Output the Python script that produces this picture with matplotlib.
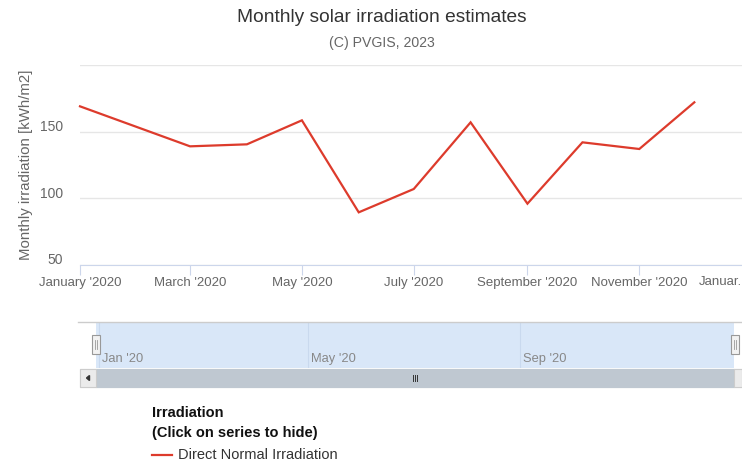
import numpy as np
import matplotlib.pyplot as plt
import matplotlib.dates as mdates
import matplotlib.transforms as mtransforms
from matplotlib.patches import Rectangle
import datetime as dt

plt.rcParams['font.family'] = ['Liberation Sans', 'DejaVu Sans']

# monthly values
months = [dt.datetime(2020, m, 1) for m in range(1, 13)]
dni = [169, 153.5, 139, 140.5, 158.5, 89.5, 107, 157, 96, 142, 137, 172]

yticks = [50, 100, 150, 200]
ytick_labels = ['50', '100', '150', '']
xticks = [dt.datetime(2020, m, 1) for m in (1, 3, 5, 7, 9, 11)]
nav_ticks = [dt.datetime(2020, m, 1) for m in (1, 5, 9)]

W, H = 742, 466
fig = plt.figure(figsize=(W / 100, H / 100), dpi=100)

def box(x0, y0, x1, y1):
    # pixel box (top-left origin) -> figure fraction rect
    return [x0 / W, 1 - y1 / H, (x1 - x0) / W, (y1 - y0) / H]

red = '#dd3b2c'
grey = '#666666'

# ---- main chart
ax = fig.add_axes(box(80, 65, 742, 265))
ax.plot(months, dni, color=red, lw=1.6, solid_joinstyle='miter', clip_on=False)
ax.set_xlim(dt.datetime(2020, 1, 1), dt.datetime(2020, 12, 27))
ax.set_ylim(50, 200)
ax.set_yticks(yticks)
ax.set_yticklabels(ytick_labels)
ax.yaxis.grid(True, color='#e6e6e6', lw=1)
ax.set_axisbelow(True)
for s in ['top', 'right', 'left']:
    ax.spines[s].set_visible(False)
ax.spines['bottom'].set_color('#ccd6eb')
ax.tick_params(axis='y', length=0, labelsize=10, labelcolor=grey, pad=12)
ax.set_xticks(xticks)
ax.xaxis.set_major_formatter(mdates.DateFormatter("%B '%Y"))
ax.tick_params(axis='x', length=7.2, color='#ccd6eb', labelsize=9.5,
               labelcolor=grey, pad=1.5)
off = mtransforms.ScaledTranslation(0, 6 / 100, fig.dpi_scale_trans)
for lab in ax.get_yticklabels():
    lab.set_transform(lab.get_transform() + off)
ax.text(1.0, -0.085, 'Januar.', transform=ax.transAxes, ha='right', va='center',
        fontsize=9.5, color=grey)
ax.set_ylabel('Monthly irradiation [kWh/m2]', fontsize=10.8, color=grey)
ax.yaxis.set_label_coords(-47 / 662, 0.5)

fig.text(382 / W, 1 - 17 / H, 'Monthly solar irradiation estimates', ha='center',
         va='center', fontsize=13.8, color='#333333')
fig.text(382 / W, 1 - 43 / H, '(C) PVGIS, 2023', ha='center', va='center',
         fontsize=10.2, color=grey)

# ---- navigator
nav = fig.add_axes(box(96, 322, 734, 368))
nav.set_xlim(dt.datetime(2019, 12, 30), dt.datetime(2021, 1, 3))
nav.set_ylim(0, 1)
nav.set_facecolor('#d9e7f8')
nav.set_xticks(nav_ticks)
nav.xaxis.set_major_formatter(mdates.DateFormatter(''))
nav.xaxis.grid(True, color='#c9d9ee', lw=0.8)
nav.set_yticks([])
nav.tick_params(length=0)
for s in nav.spines.values():
    s.set_visible(False)
for t in nav_ticks:
    nav.text(mdates.date2num(t) + 1.6, 0.2, t.strftime("%b '%y"), fontsize=9.3,
             color='#888888', va='center', ha='left')

ov = fig.add_axes([0, 0, 1, 1])
ov.set_xlim(0, W)
ov.set_ylim(H, 0)
ov.axis('off')
ov.set_zorder(5)
# navigator outline
ov.plot([78, 742], [321.5, 321.5], color='#cccccc', lw=1)
# scrollbar
ov.add_patch(Rectangle((80, 369), 662, 18, facecolor='#f2f2f2', edgecolor='#cccccc', lw=0.8))
ov.add_patch(Rectangle((96, 369), 638, 18, facecolor='#bfc8d1', edgecolor='#bfc8d1', lw=0.8))
ov.add_patch(Rectangle((80, 369), 16, 18, facecolor='#ebebeb', edgecolor='#cccccc', lw=0.8))
ov.add_patch(Rectangle((734, 369), 8, 18, facecolor='#ebebeb', edgecolor='#cccccc', lw=0.8))
ov.fill([86.5, 89.5, 89.5], [378, 375.5, 380.5], color='#333333')
for xx in (413, 415, 417):
    ov.plot([xx, xx], [375, 381], color='#333333', lw=0.7)
# handles
for hx in (96, 735):
    ov.add_patch(Rectangle((hx - 4, 335), 8, 19, facecolor='#f2f2f2',
                           edgecolor='#999999', lw=0.8))
    for d in (-1, 1):
        ov.plot([hx + d, hx + d], [340, 349], color='#999999', lw=0.6)

# ---- legend
fig.text(152 / W, 1 - 413 / H, 'Irradiation', fontsize=10.5, fontweight='bold',
         color='#111111', va='center')
fig.text(152 / W, 1 - 432.5 / H, '(Click on series to hide)', fontsize=10.5,
         fontweight='bold', color='#111111', va='center')
ov.plot([152, 172], [455, 455], color=red, lw=1.6)
fig.text(178 / W, 1 - 455 / H, 'Direct Normal Irradiation', fontsize=10.5,
         color='#333333', va='center')

fig.savefig('out.png', dpi=100)
